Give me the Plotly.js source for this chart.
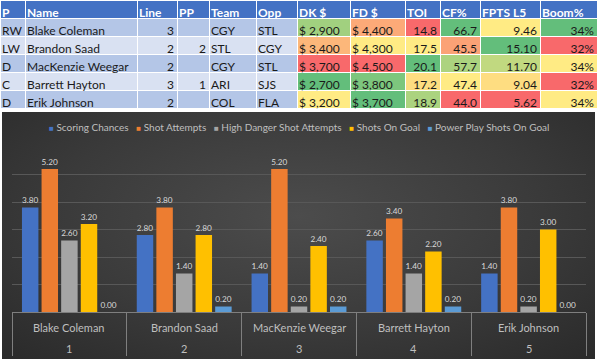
<!DOCTYPE html>
<html>
<head>
<meta charset="utf-8">
<script src="https://cdn.plot.ly/plotly-3.0.1.min.js"></script>
<style>
  html, body { margin:0; padding:0; background:#ffffff; width:600px; height:364px; overflow:hidden; }
  #tbl { position:absolute; left:-6px; top:0; width:612px; height:112px; }
  #chart { position:absolute; left:2px; top:112px; width:593px; height:247px;
    background: radial-gradient(ellipse 75% 85% at 50% 42%, #4c4c4c 0%, #3a3a3a 55%, #282828 100%); }
</style>
</head>
<body>
<div id="tbl"></div>
<div id="chart"></div>
<script>
// ---------- table data ----------
const headers = ["P","Name","Line","PP","Team","Opp","DK $","FD $","TOI","CF%","FPTS L5","Boom%"];
const positions = ["RW","LW","D","C","D"];
const names = ["Blake Coleman","Brandon Saad","MacKenzie Weegar","Barrett Hayton","Erik Johnson"];
const lines = [3,2,2,3,2];
const pp = ["",2,"",1,""];
const teams = ["CGY","STL","CGY","ARI","COL"];
const opps = ["STL","CGY","STL","SJS","FLA"];
const dkSalary = [2900,3400,3700,2700,3200];
const fdSalary = [4400,4300,4500,3800,3700];
const toi = [14.8,17.5,20.1,17.2,18.9];
const cfPct = [66.7,45.5,57.7,47.4,44.0];
const fptsL5 = [9.46,15.10,11.70,9.04,5.62];
const boomPct = [34.4,32.0,33.8,32.0,33.8];

// ---------- chart data ----------
const games = ["1","2","3","4","5"];
const players = ["Blake Coleman","Brandon Saad","MacKenzie Weegar","Barrett Hayton","Erik Johnson"];
const seriesNames = ["Scoring Chances","Shot Attempts","High Danger Shot Attempts","Shots On Goal","Power Play Shots On Goal"];
const scoringChances = [3.80,2.80,1.40,2.60,1.40];
const shotAttempts = [5.20,3.80,5.20,3.40,3.80];
const highDanger = [2.60,1.40,0.20,1.40,0.20];
const shotsOnGoal = [3.20,2.80,2.40,2.20,3.00];
const ppShotsOnGoal = [0.00,0.20,0.20,0.20,0.00];

const seriesColors = ["#4472C4","#ED7D31","#A5A5A5","#FFC000","#5B9BD5"];
const seriesValues = [scoringChances, shotAttempts, highDanger, shotsOnGoal, ppShotsOnGoal];

// Excel style 3-colour scale
const RED=[248,105,107], YEL=[255,235,132], GRN=[99,190,123];
function mix(a,b,t){ return 'rgb('+a.map((v,i)=>Math.round(v+(b[i]-v)*t)).join(',')+')'; }
function scale(vals, highGood){
  const s=[...vals].sort((a,b)=>a-b);
  const mn=s[0], mx=s[s.length-1], md=s[Math.floor(s.length/2)];
  const lowC = highGood?RED:GRN, highC = highGood?GRN:RED;
  return vals.map(v=>{
    if (v<=md) return mix(lowC,YEL,md===mn?1:(v-mn)/(md-mn));
    return mix(YEL,highC,(v-md)/(mx-md));
  });
}
const nb = s => String(s).replace(/ /g,'\u00A0');
const money = v => nb('$ ' + v.toLocaleString('en-US'));
const rowFill = positions.map((_,i)=> i%2===0 ? '#B4C6E7' : '#D9E1F2');

const cellValues = [
  positions, names.map(nb), lines, pp, teams, opps,
  dkSalary.map(money), fdSalary.map(money),
  toi.map(v=>v.toFixed(1)), cfPct.map(v=>v.toFixed(1)),
  fptsL5.map(v=>v.toFixed(2)), boomPct.map(v=>Math.round(v)+'%')
];
const colAlign = ['left','left','right','right','left','left','left','left','right','right','right','right'];
const fills = [rowFill,rowFill,rowFill,rowFill,rowFill,rowFill,
  scale(dkSalary,false), scale(fdSalary,false), scale(toi,true),
  scale(cfPct,true), scale(fptsL5,true), scale(boomPct,true)];

// table geometry (pixels in the 612px wide table div)
const colW = [25,112,40,32,47,41,53,55,35,40,60,57];
const divW = 612, tblW = 597, off = 6;
const dom = (shift, w) => ({x:[(off+shift)/divW, (off+shift+(w||tblW))/divW], y:[0,1]});
const blank = cellValues.map(c=>c.map(()=> ''));
const clear = 'rgba(0,0,0,0)';
const cellFont = {family:'Lato, sans-serif', size:12, color:'#1a1a1a'};
const headFont = {family:'Lato, sans-serif', size:12, color:'#ffffff', weight:'bold'};

// 1) cell fills and grid
const fillTable = {
  type:'table', domain:dom(0), columnwidth:colW,
  header:{values: headers.map(()=> ''), height:18, fill:{color:'#4472C4'}, line:{color:'#ffffff', width:1}},
  cells:{values: blank, height:18, fill:{color: fills}, line:{color:'#ffffff', width:1}}
};
// 2) left-aligned texts (header and left columns), tight Excel-like padding
const leftTable = {
  type:'table', domain:dom(-6), columnwidth:colW,
  header:{values: headers.map((h,i)=> i===0 ? '' : nb(h)), align:'left', height:18, fill:{color:clear}, line:{color:clear, width:0}, font:headFont},
  cells:{values: cellValues.map((c,i)=> (colAlign[i]==='left' && i>0) ? c : c.map(()=> '')), align:'left', height:18,
    fill:{color:clear}, line:{color:clear, width:0}, font:cellFont}
};
// 2b) the narrow first column, given its own wider text box so it is not clipped
const posTable = {
  type:'table', domain:dom(-6, 34), columnwidth:[34],
  header:{values:[headers[0]], align:'left', height:18, fill:{color:clear}, line:{color:clear, width:0}, font:headFont},
  cells:{values:[positions], align:'left', height:18, fill:{color:clear}, line:{color:clear, width:0}, font:cellFont}
};
// 3) right-aligned numeric columns
const rightTable = {
  type:'table', domain:dom(5), columnwidth:colW,
  header:{values: headers.map(()=> ''), height:18, fill:{color:clear}, line:{color:clear, width:0}},
  cells:{values: cellValues.map((c,i)=> colAlign[i]==='right' ? c : c.map(()=> '')), align:'right', height:18,
    fill:{color:clear}, line:{color:clear, width:0}, font:cellFont}
};

Plotly.newPlot('tbl', [fillTable, leftTable, posTable, rightTable], {
  width:divW, height:112, margin:{l:0,r:0,t:0,b:0},
  paper_bgcolor:'rgba(0,0,0,0)', font:{family:'Lato, sans-serif'}
}, {displayModeBar:false, staticPlot:true});

// ---------- bar chart ----------
const traces = seriesNames.map((n,i)=>({
  type:'bar', name:n,
  x: players, y: seriesValues[i],
  marker:{color: seriesColors[i]},
  texttemplate:'%{y:.2f}', textposition:'outside', cliponaxis:false,
  textfont:{family:'Lato, sans-serif', size:11.5, color:'#D9D9D9'},
  showlegend:false
}));

const legendText = seriesNames.map((n,i)=>
  '<span style="color:'+seriesColors[i]+';font-size:8px">\u25A0</span>\u00A0'+n).join('\u00A0\u00A0\u00A0');

const plotH = 247-35-47;
const axisLabels = [];
players.forEach((p,i)=>{
  axisLabels.push({xref:'x', yref:'paper', x:p, y:-15/plotH, yanchor:'middle', xanchor:'center',
    showarrow:false, text:p, font:{family:'Lato, sans-serif', size:11, color:'#BFBFBF'}});
  axisLabels.push({xref:'x', yref:'paper', x:p, y:-36/plotH, yanchor:'middle', xanchor:'center',
    showarrow:false, text:games[i], font:{family:'Lato, sans-serif', size:11, color:'#BFBFBF'}});
});

Plotly.newPlot('chart', traces, {
  width:593, height:247,
  margin:{l:10, r:9, t:35, b:47},
  paper_bgcolor:'rgba(0,0,0,0)', plot_bgcolor:'rgba(0,0,0,0)',
  barmode:'group', bargap:0.146, bargroupgap:0.16,
  font:{family:'Lato, sans-serif', color:'#BFBFBF'},
  xaxis:{type:'category', showticklabels:false, ticks:'outside', tickson:'boundaries',
    ticklen:43, tickcolor:'#7f7f7f', tickwidth:1,
    showline:true, linecolor:'#7f7f7f', linewidth:1, showgrid:false},
  yaxis:{range:[0,6], dtick:1, showticklabels:false, gridcolor:'#585858', gridwidth:1,
    zeroline:false, showline:false},
  annotations:[{xref:'paper', yref:'paper', x:0.5, y:1+20/plotH, xanchor:'center', yanchor:'middle',
    showarrow:false, text:legendText,
    font:{family:'Lato, sans-serif', size:10, color:'#BFBFBF'}}].concat(axisLabels)
}, {displayModeBar:false, staticPlot:true});
</script>
</body>
</html>
